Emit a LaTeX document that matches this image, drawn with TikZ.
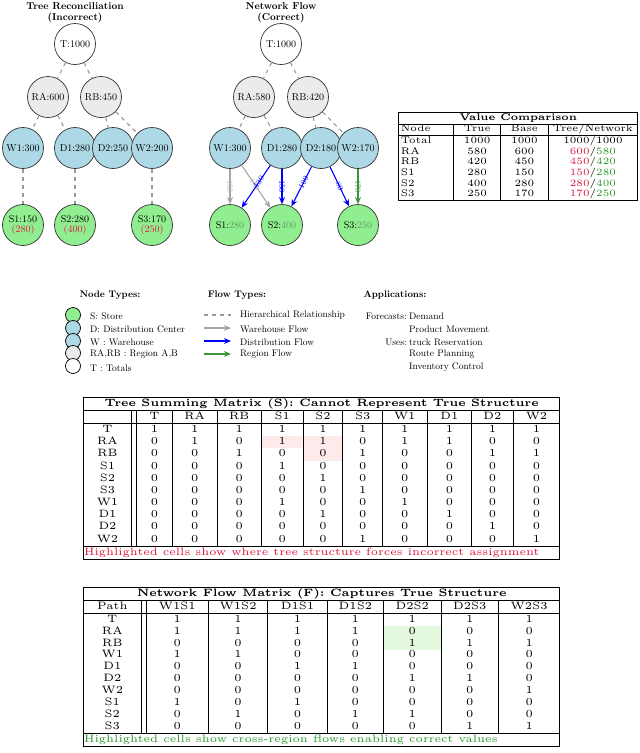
\PassOptionsToPackage{table}{xcolor}
\documentclass[tikz,border=0pt]{standalone}
\usepackage{array,graphicx}
\usetikzlibrary{arrows.meta}
\newcolumntype{C}[1]{>{\centering\arraybackslash}p{#1pt}}
\definecolor{cgray}{RGB}{235,235,235}
\definecolor{cblue}{RGB}{173,216,230}
\definecolor{cgreen}{RGB}{144,238,144}
\definecolor{cred}{RGB}{220,20,60}
\definecolor{cgr}{RGB}{40,150,40}
\definecolor{cgl}{RGB}{90,160,90}
\definecolor{hpink}{RGB}{253,235,235}
\definecolor{hgreen}{RGB}{228,248,222}
\definecolor{agreen}{RGB}{60,150,60}
\tikzset{
 nd/.style={circle,draw=black!80,line width=0.7pt,minimum size=41pt,inner sep=0pt,font=\fontsize{10}{11}\selectfont,align=center},
 tn/.style={nd,fill=white},
 rn/.style={nd,fill=cgray},
 bn/.style={nd,fill=cblue},
 sn/.style={nd,fill=cgreen},
 hier/.style={gray!80,line width=1.1pt,dash pattern=on 4pt off 4pt},
 flw/.style={line width=1.1pt,-{Stealth[length=7pt,width=6pt]}},
 lab/.style={sloped,font=\fontsize{8}{9}\selectfont,inner sep=1pt},
 ttl/.style={font=\fontsize{10}{11}\selectfont\bfseries,align=center},
 lc/.style={circle,draw=black,line width=0.7pt,minimum size=15pt,inner sep=0pt},
 lt/.style={font=\fontsize{9.5}{11}\selectfont,anchor=west,inner sep=0pt},
 lh/.style={font=\fontsize{9.5}{11}\selectfont\bfseries},
}
\begin{document}
\begin{tikzpicture}[x=1pt,y=-1pt]
\useasboundingbox (0,0) rectangle (640,753);
% ---------- tree ----------
\node[ttl] (t1) at (75,13) {Tree Reconciliation\\(Incorrect)};
\node[tn] (aT) at (75,44) {T:1000};
\node[rn] (aRA) at (48,97) {RA:600};
\node[rn] (aRB) at (101,97) {RB:450};
\node[bn] (aW1) at (23,148) {W1:300};
\node[bn] (aD1) at (75,148) {D1:280};
\node[bn] (aD2) at (113,148) {D2:250};
\node[bn] (aW2) at (152,148) {W2:200};
\node[sn] (aS1) at (23,225) {S1:150\\[-1pt]\textcolor{cred}{(280)}};
\node[sn] (aS2) at (75,225) {S2:280\\[-1pt]\textcolor{cred}{(400)}};
\node[sn] (aS3) at (152,225) {S3:170\\[-1pt]\textcolor{cred}{(250)}};
\draw[hier] (aT)--(aRA); \draw[hier] (aT)--(aRB);
\draw[hier] (aRA)--(aW1); \draw[hier] (aRA)--(aD1);
\draw[hier] (aRB)--(aD2); \draw[hier] (aRB)--(aW2);
\draw[hier] (aW1)--(aS1); \draw[hier] (aD1)--(aS2); \draw[hier] (aW2)--(aS3);
% ---------- network ----------
\node[ttl] (t2) at (281,13) {Network Flow\\(Correct)};
\node[tn] (bT) at (281,44) {T:1000};
\node[rn] (bRA) at (254,97) {RA:580};
\node[rn] (bRB) at (308,97) {RB:420};
\node[bn] (bW1) at (230,148) {W1:300};
\node[bn] (bD1) at (282,148) {D1:280};
\node[bn] (bD2) at (321,148) {D2:180};
\node[bn] (bW2) at (358,148) {W2:170};
\node[sn] (bS1) at (230,225) {S1:\textcolor{cgl}{280}};
\node[sn] (bS2) at (282,225) {S2:\textcolor{cgl}{400}};
\node[sn] (bS3) at (358,225) {S3:\textcolor{cgl}{250}};
\draw[hier] (bT)--(bRA); \draw[hier] (bT)--(bRB);
\draw[hier] (bRA)--(bW1); \draw[hier] (bRA)--(bD1);
\draw[hier] (bRB)--(bD2); \draw[hier] (bRB)--(bW2);
\draw[flw,gray!70] (bW1)--(bS1) node[lab,midway,text=gray!60] {150};
\draw[flw,gray!70] (bW1)--(bS2) node[lab,pos=0.45,text=gray!60] {150};
\draw[flw,blue] (bD1)--(bS1) node[lab,pos=0.4] {130};
\draw[flw,blue] (bD1)--(bS2) node[lab,midway] {150};
\draw[flw,blue] (bD2)--(bS2) node[lab,pos=0.4] {100};
\draw[flw,blue] (bD2)--(bS3) node[lab,midway] {80};
\draw[flw,agreen] (bW2)--(bS3) node[lab,midway] {170};
% ---------- value table ----------
\node[anchor=north west,inner sep=0pt] (vt) at (398,112) {\resizebox{240pt}{!}{\tiny
\setlength\tabcolsep{1pt}\renewcommand\arraystretch{0.92}%
\begin{tabular}{|>{\raggedright\arraybackslash}p{26pt}|C{22}|C{22}|C{44}|}
\hline
\multicolumn{4}{|c|}{\textbf{Value Comparison}}\\\hline
Node & True & Base & Tree/Network\\\hline
Total & 1000 & 1000 & 1000/1000\\
RA & 580 & 600 & \textcolor{cred}{600}/\textcolor{cgr}{580}\\
RB & 420 & 450 & \textcolor{cred}{450}/\textcolor{cgr}{420}\\
S1 & 280 & 150 & \textcolor{cred}{150}/\textcolor{cgr}{280}\\
S2 & 400 & 280 & \textcolor{cred}{280}/\textcolor{cgr}{400}\\
S3 & 250 & 170 & \textcolor{cred}{170}/\textcolor{cgr}{250}\\\hline
\end{tabular}}};
% ---------- legend ----------
\node[lh] (h1) at (110,295) {Node Types:};
\node[lc,fill=cgreen] (l1) at (73,315) {};
\node[lc,fill=cblue] (l2) at (73,328) {};
\node[lc,fill=cblue] (l3) at (73,341) {};
\node[lc,fill=cgray] (l4) at (73,353) {};
\node[lc,fill=white] (l5) at (73,366) {};
\node[lt] (m1) at (90,316) {S: Store};
\node[lt] (m2) at (90,329) {D: Distribution Center};
\node[lt] (m3) at (90,342) {W : Warehouse};
\node[lt] (m4) at (90,354) {RA,RB : Region A,B};
\node[lt] (m5) at (90,368) {T : Totals};
\node[lh] (h2) at (237,295) {Flow Types:};
\coordinate (f1a) at (204,315); \coordinate (f1b) at (231,315);
\coordinate (f2a) at (204,328); \coordinate (f2b) at (231,328);
\coordinate (f3a) at (204,341); \coordinate (f3b) at (231,341);
\coordinate (f4a) at (204,354); \coordinate (f4b) at (231,354);
\draw[hier] (f1a)--(f1b);
\draw[flw,gray!70] (f2a)--(f2b);
\draw[flw,blue] (f3a)--(f3b);
\draw[flw,agreen] (f4a)--(f4b);
\node[lt] (n1) at (240,315) {Hierarchical Relationship};
\node[lt] (n2) at (240,329) {Warehouse Flow};
\node[lt] (n3) at (240,342) {Distribution Flow};
\node[lt] (n4) at (240,354) {Region Flow};
\node[lh] (h3) at (395,295) {Applications:};
\node[lt,anchor=east] (a1) at (407,316) {Forecasts:};
\node[lt] (a2) at (409,316) {Demand};
\node[lt] (a3) at (409,329) {Product Movement};
\node[lt,anchor=east] (a4) at (407,342) {Uses:};
\node[lt] (a5) at (409,342) {truck Reservation};
\node[lt] (a6) at (409,354) {Route Planning};
\node[lt] (a7) at (409,367) {Inventory Control};
% ---------- matrix S ----------
\node[anchor=north west,inner sep=0pt] (ms) at (83,397) {\resizebox{477pt}{!}{\tiny
\setlength\tabcolsep{0pt}\renewcommand\arraystretch{0.95}%
\begin{tabular}{|C{22}||C{16.4}|C{20.5}|C{20.5}|C{19.1}|C{18.2}|C{18.2}|C{20.5}|C{20.5}|C{19.1}|C{21.4}|}
\hline
\multicolumn{11}{|c|}{\textbf{Tree Summing Matrix (S): Cannot Represent True Structure}}\\\hline
 & T & RA & RB & S1 & S2 & S3 & W1 & D1 & D2 & W2\\\hline
T & 1&1&1&1&1&1&1&1&1&1\\
RA & 0&1&0&\cellcolor{hpink}1&\cellcolor{hpink}1&0&1&1&0&0\\
RB & 0&0&1&0&\cellcolor{hpink}0&1&0&0&1&1\\
S1 & 0&0&0&1&0&0&0&0&0&0\\
S2 & 0&0&0&0&1&0&0&0&0&0\\
S3 & 0&0&0&0&0&1&0&0&0&0\\
W1 & 0&0&0&1&0&0&1&0&0&0\\
D1 & 0&0&0&0&1&0&0&1&0&0\\
D2 & 0&0&0&0&0&0&0&0&1&0\\
W2 & 0&0&0&0&0&1&0&0&0&1\\\hline
\multicolumn{11}{|l|}{\textcolor{cred}{Highlighted cells show where tree structure forces incorrect assignment}}\\\hline
\end{tabular}}};
% ---------- matrix F ----------
\node[anchor=north west,inner sep=0pt] (mf) at (83,587) {\resizebox{477pt}{!}{\tiny
\setlength\tabcolsep{0pt}\renewcommand\arraystretch{0.93}%
\begin{tabular}{|C{26.4}||C{28.6}|C{27.3}|C{27.3}|C{25.9}|C{26.4}|C{26.4}|C{28.2}|}
\hline
\multicolumn{8}{|c|}{\textbf{Network Flow Matrix (F): Captures True Structure}}\\\hline
Path & W1S1 & W1S2 & D1S1 & D1S2 & D2S2 & D2S3 & W2S3\\\hline
T & 1&1&1&1&1&1&1\\
RA & 1&1&1&1&\cellcolor{hgreen}0&0&0\\
RB & 0&0&0&0&\cellcolor{hgreen}1&1&1\\
W1 & 1&1&0&0&0&0&0\\
D1 & 0&0&1&1&0&0&0\\
D2 & 0&0&0&0&1&1&0\\
W2 & 0&0&0&0&0&0&1\\
S1 & 1&0&1&0&0&0&0\\
S2 & 0&1&0&1&1&0&0\\
S3 & 0&0&0&0&0&1&1\\\hline
\multicolumn{8}{|l|}{\textcolor{cgr}{Highlighted cells show cross-region flows enabling correct values}}\\\hline
\end{tabular}}};
\end{tikzpicture}
\end{document}
